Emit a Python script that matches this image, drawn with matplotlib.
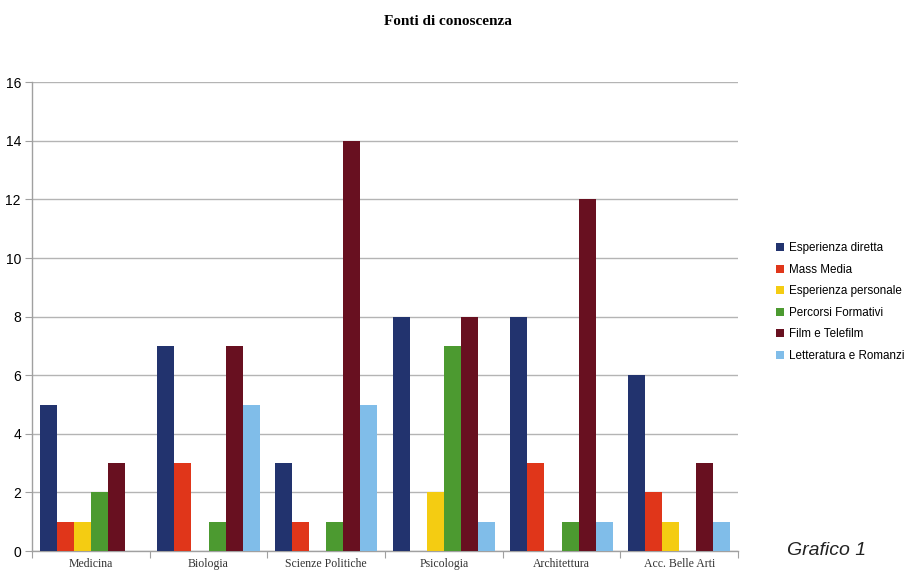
import numpy as np
import matplotlib
matplotlib.use("Agg")
import matplotlib.pyplot as plt
from matplotlib.patches import Patch

categories = ["Medicina", "Biologia", "Scienze Politiche", "Psicologia",
              "Architettura", "Acc. Belle Arti"]
series_names = ["Esperienza diretta", "Mass Media", "Esperienza personale",
                "Percorsi Formativi", "Film e Telefilm", "Letteratura e Romanzi"]
esperienza_diretta = [5, 7, 3, 8, 8, 6]
mass_media = [1, 3, 1, 0, 3, 2]
esperienza_personale = [1, 0, 0, 2, 0, 1]
percorsi_formativi = [2, 1, 1, 7, 1, 0]
film_telefilm = [3, 7, 14, 8, 12, 3]
letteratura_romanzi = [0, 5, 5, 1, 1, 1]
y_ticks = [0, 2, 4, 6, 8, 10, 12, 14, 16]

series = [esperienza_diretta, mass_media, esperienza_personale,
          percorsi_formativi, film_telefilm, letteratura_romanzi]
colors = ["#22336e", "#e0361a", "#f4cc12", "#4c9a30", "#681020", "#80bde9"]

fig = plt.figure(figsize=(9.07, 5.71), dpi=100)
ax = fig.add_axes([0.0353, 0.035, 0.7784, 0.821])

n = len(series)
group_w = 0.87
bw = group_w / n
x = np.arange(len(categories))
for i, (vals, c) in enumerate(zip(series, colors)):
    ax.bar(x - group_w / 2 + bw * (i + 0.5), vals, width=bw, color=c,
           linewidth=0, zorder=3)

ax.set_xlim(-0.5, len(categories) - 0.5)
ax.set_ylim(0, 16)
ax.set_yticks(y_ticks)
ax.set_yticklabels([str(v) for v in y_ticks], fontsize=10,
                   family="Liberation Sans")
ax.yaxis.grid(True, color="#b4b4b4", linewidth=1, zorder=0)
ax.tick_params(axis="y", length=5, color="#a0a0a0", pad=3)

# category labels centred, ticks on group boundaries
ax.set_xticks(np.arange(len(categories) + 1) - 0.5)
ax.set_xticklabels([])
ax.set_xticks(x, minor=True)
ax.set_xticklabels(categories, minor=True, fontsize=8.5,
                   family="Liberation Serif", color="#333333")
ax.tick_params(axis="x", which="major", length=5, color="#a0a0a0",
               direction="out")
ax.tick_params(axis="x", which="minor", length=0, pad=5)

for s in ["top", "right"]:
    ax.spines[s].set_visible(False)
for s in ["left", "bottom"]:
    ax.spines[s].set_color("#a0a0a0")
    ax.spines[s].set_linewidth(1)

fig.text(0.494, 0.962, "Fonti di conoscenza", ha="center", va="center",
         fontsize=11, fontweight="bold", family="Liberation Serif")

handles = [Patch(facecolor=c, edgecolor="none") for c in colors]
fig.legend(handles, series_names, loc="center left",
           bbox_to_anchor=(0.849, 0.471), frameon=False,
           prop={"family": "Liberation Sans", "size": 8.35},
           handlelength=0.7, handleheight=0.7, handletextpad=0.4,
           labelspacing=0.82, borderpad=0)

fig.text(0.868, 0.036, "Grafico 1", ha="left", va="center",
         fontsize=14, style="italic", family="Liberation Sans",
         color="#222222")

fig.savefig("out.png", dpi=100)
